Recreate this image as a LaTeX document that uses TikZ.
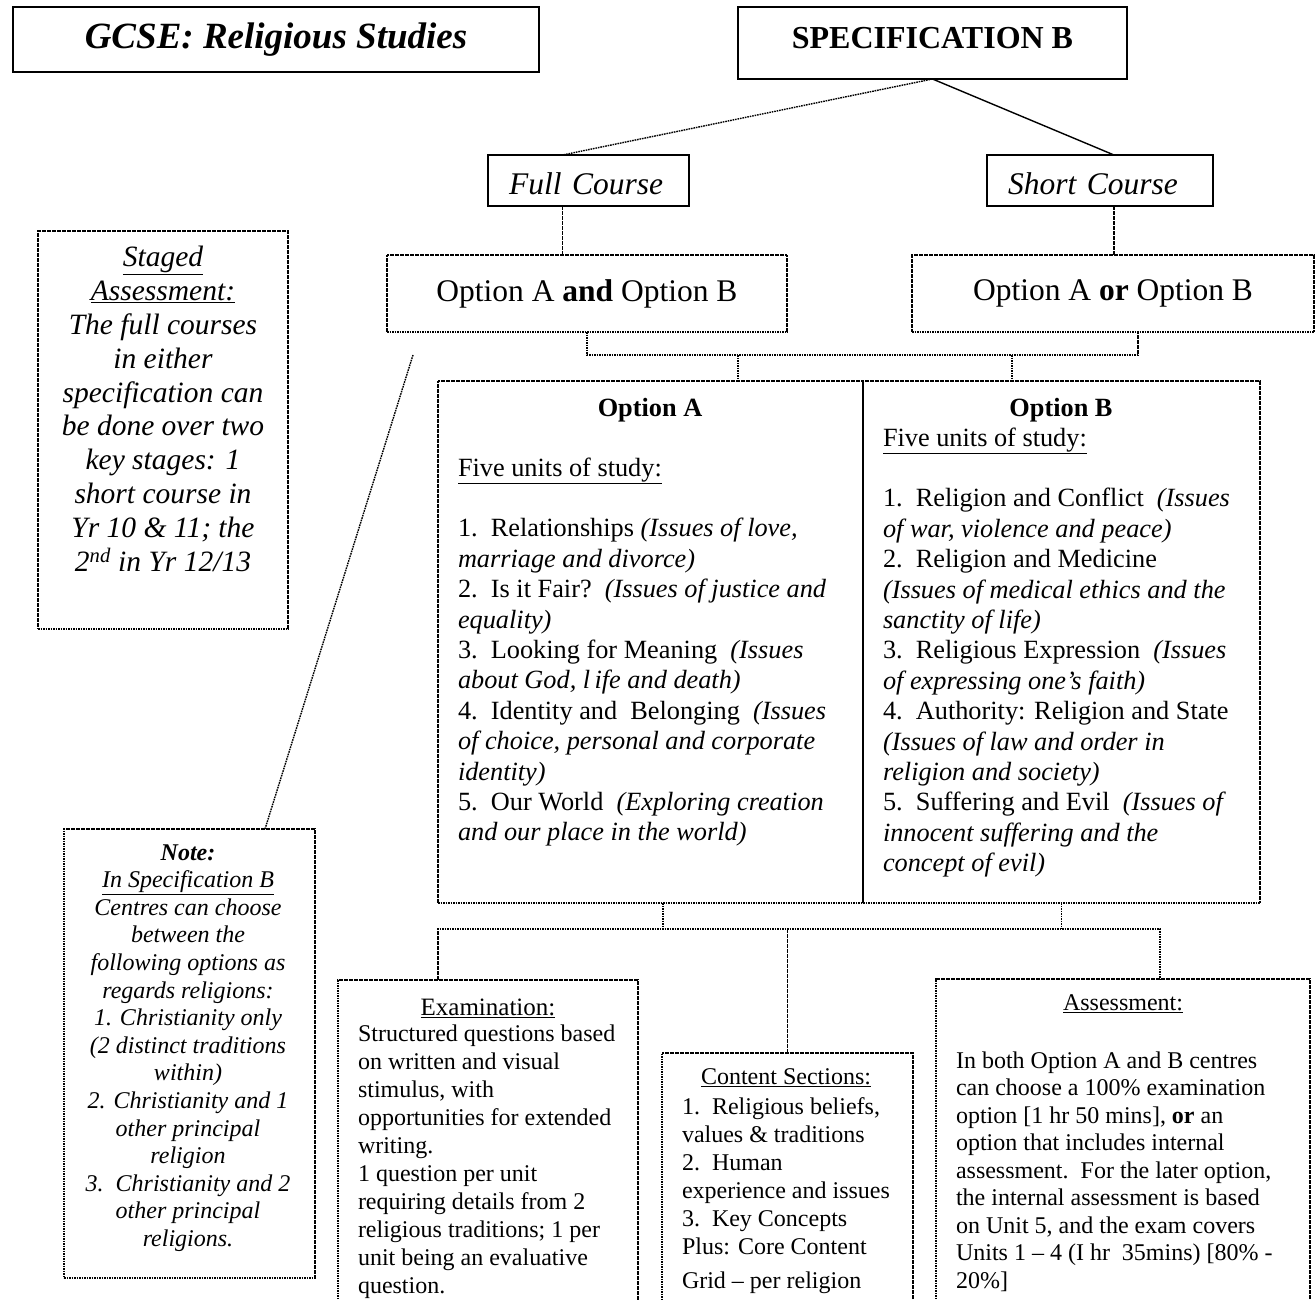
\documentclass[tikz,border=0pt]{standalone}
\usepackage{fontspec}
\setmainfont{Liberation Serif}
\begin{document}
\begin{tikzpicture}[
        x=1pt, y=-1pt,
        every node/.style={inner sep=0pt, outer sep=0pt},
        frame/.style={draw, rectangle, anchor=north west, line width=1.8pt},
        dotbox/.style={draw, rectangle, anchor=north west, line width=1.4pt, dash pattern=on 1.6pt off 0.9pt},
        link/.style={line width=1.4pt, dash pattern=on 1.6pt off 0.9pt},
        big/.style={font=\fontsize{31.5}{36}\selectfont},
        course/.style={font=\fontsize{31.5}{36}\selectfont\itshape, align=left, text height=35pt, text depth=6pt},
        body/.style={font=\fontsize{26.3}{30.4}\selectfont, align=left, anchor=north west},
        small/.style={font=\fontsize{24}{28}\selectfont, align=left, anchor=north west},
        lowtext/.style={text height=22pt, text depth=10pt}
    ]
    \clip (0,0) rectangle (1315,1300);

    \node[frame, line width=2.8pt, minimum width=526pt, minimum height=65pt,
        font=\fontsize{37}{42}\selectfont\bfseries\itshape] (title) at (13,7) {GCSE: Religious Studies};
    \node[frame, minimum width=389pt, minimum height=72pt, lowtext,
        font=\fontsize{32}{36}\selectfont\bfseries] (spec) at (738,7) {SPECIFICATION B};
    \node[frame, course, text width=159pt, minimum width=201pt, minimum height=51pt] (full) at (488,155) {Full Course};
    \node[frame, course, text width=184pt, minimum width=226pt, minimum height=51pt] (short) at (987,155) {Short Course};
    \node[dotbox, big, minimum width=400pt, minimum height=77pt] (both) at (387,255) {Option A \textbf{and} Option B};
    \node[dotbox, big, minimum width=402pt, minimum height=77pt] (either) at (912,255) {Option A \textbf{or} Option B};

    \node[dotbox, minimum width=425pt, minimum height=522pt] (optA) at (438,381) {};
    \node[dotbox, minimum width=397pt, minimum height=522pt] (optB) at (863,381) {};
    \node[dotbox, minimum width=250pt, minimum height=398pt] (staged) at (38,231) {};
    \node[dotbox, minimum width=251pt, minimum height=449pt] (note) at (64,829) {};
    \node[dotbox, minimum width=300pt, minimum height=340pt] (exam) at (338,980) {};
    \node[dotbox, minimum width=251pt, minimum height=270pt] (content) at (662,1053) {};
    \node[dotbox, minimum width=374pt, minimum height=341pt] (assess) at (936,979) {};

    \node[font=\fontsize{26.3}{30.4}\selectfont\bfseries] (optAhead) at (650,410) {Option A};
    \node[font=\fontsize{26.3}{30.4}\selectfont\bfseries] (optBhead) at (1061,410) {Option B};
    \node[body] (optAlist) at (458,457.5) {\underline{Five units of study:}\\[30.4pt]
        1.\ \ Relationships \textit{(Issues of love,}\\
        \textit{marriage and divorce)}\\
        2.\ \ Is it Fair?\ \ \textit{(Issues of justice and}\\
        \textit{equality)}\\
        3.\ \ Looking for Meaning\ \ \textit{(Issues}\\
        \textit{about God, l\,ife and death)}\\
        4.\ \ Identity and\ \ Belonging\ \ \textit{(Issues}\\
        \textit{of choice, personal and corporate}\\
        \textit{identity)}\\
        5.\ \ Our World\ \ \textit{(Exploring creation}\\
        \textit{and our place in the world)}};
    \node[body] (optBlist) at (883,427.5) {\underline{Five units of study:}\\[30.4pt]
        1.\ \ Religion and Conflict\ \ \textit{(Issues}\\
        \textit{of war, violence and peace)}\\
        2.\ \ Religion and Medicine\\
        \textit{(Issues of medical ethics and the}\\
        \textit{sanctity of life)}\\
        3.\ \ Religious Expression\ \ \textit{(Issues}\\
        \textit{of expressing one’s faith)}\\
        4.\ \ Authority: Religion and State\\
        \textit{(Issues of law and order in}\\
        \textit{religion and society)}\\
        5.\ \ Suffering and Evil\ \ \textit{(Issues of}\\
        \textit{innocent suffering and the}\\
        \textit{concept of evil)}};

    \node[anchor=north, align=center, font=\fontsize{29.5}{33.8}\selectfont\itshape] (stagedtext) at (163,246.4)
        {\underline{Staged}\\ \underline{Assessment:}\\ The full courses\\ in either\\ specification can\\
        be done over two\\ key stages: 1\\ short course in\\ Yr 10 \& 11; the\\ 2\textsuperscript{nd} in Yr 12/13};
    \node[anchor=north, align=center, font=\fontsize{24}{27.6}\selectfont\itshape] (notetext) at (188,844.4)
        {\textbf{Note:}\\ \underline{In Specification B}\\ Centres can choose\\ between the\\ following options as\\
        regards religions:\\ 1. Christianity only\\ (2 distinct traditions\\ within)\\ 2. Christianity and 1\\
        other principal\\ religion\\ 3.\ \ Christianity and 2\\ other principal\\ religions.};

    \node[font=\fontsize{25}{28}\selectfont] (examhead) at (488,1008) {\underline{Examination:}};
    \node[small] (examtext) at (358,1024.4) {Structured questions based\\ on written and visual\\ stimulus, with\\
        opportunities for extended\\ writing.\\ 1 question per unit\\ requiring details from 2\\
        religious traditions; 1 per\\ unit being an evaluative\\ question.};
    \node[font=\fontsize{24}{28}\selectfont] (contenthead) at (786,1078) {\underline{Content Sections:}};
    \node[small] (contenttext) at (682,1097.4) {1.\ \ Religious beliefs,\\ values \& traditions\\ 2.\ \ Human\\
        experience and issues\\ 3.\ \ Key Concepts\\ Plus: Core Content\\[6pt] Grid -- per religion};
    \node[font=\fontsize{24}{28}\selectfont] (assesshead) at (1123,1004) {\underline{Assessment:}};
    \node[small, font=\fontsize{24}{27.5}\selectfont] (assesstext) at (956,1051.4) {In both Option A and B centres\\
        can choose a 100\% examination\\ option [1 hr 50 mins], \textbf{or} an\\ option that includes internal\\
        assessment.\ \ For the later option,\\ the internal assessment is based\\ on Unit 5, and the exam covers\\
        Units 1 -- 4 (I hr\ \ 35mins) [80\% -\\ 20\%]};

    \coordinate (upbus) at (0,355);
    \coordinate (lowbus) at (0,929);
    \coordinate (slant) at (413,355);

    \draw[link] (spec.south) -- ([xshift=-26pt]full.north);
    \draw[line width=1.4pt] (spec.south) -- ([xshift=14pt]short.north);
    \draw[link] ([xshift=-26pt]full.south) -- ([xshift=-26pt]full.south |- both.north);
    \draw[link] ([xshift=14pt]short.south) -- ([xshift=14pt]short.south |- either.north);
    \draw[link] (both.south) |- ([xshift=25pt]either.south |- upbus) -- ([xshift=25pt]either.south);
    \draw[link] ([xshift=87.5pt]optA.north |- upbus) -- ([xshift=87.5pt]optA.north);
    \draw[link] ([xshift=-49.5pt]optB.north |- upbus) -- ([xshift=-49.5pt]optB.north);
    \draw[link] ([xshift=12.5pt]optA.south) -- ([xshift=12.5pt]optA.south |- lowbus);
    \draw[link] (optB.south) -- (optB.south |- lowbus);
    \draw[link] ([xshift=-50pt]exam.north) |- ([xshift=37pt]assess.north |- lowbus) -- ([xshift=37pt]assess.north);
    \draw[link] (content.north) -- (content.north |- lowbus);
    \draw[link] (slant) -- ([xshift=75.5pt]note.north);
\end{tikzpicture}
\end{document}
